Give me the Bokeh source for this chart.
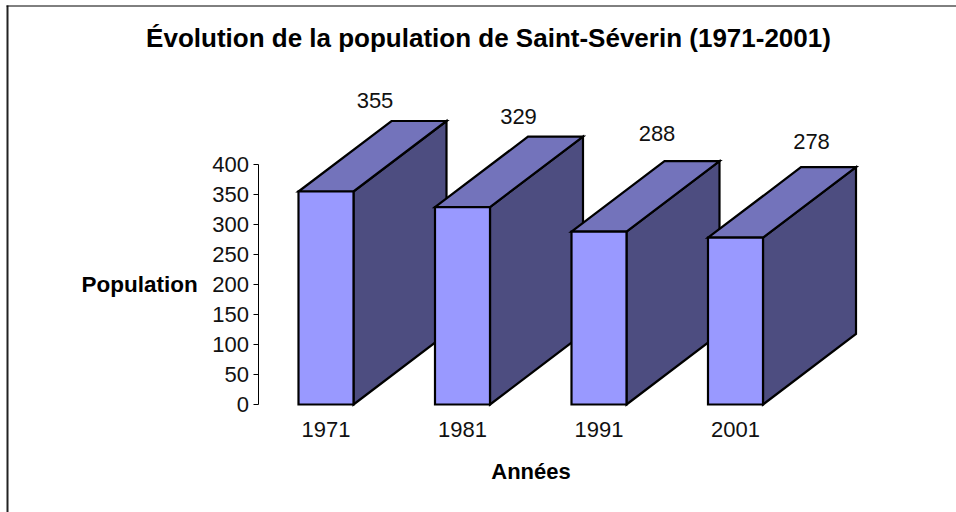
from bokeh.plotting import figure
from bokeh.models import ColumnDataSource, FixedTicker
from bokeh.core.properties import value
from bokeh.embed import file_html
from bokeh.resources import INLINE

# ---- data ----
years = ["1971", "1981", "1991", "2001"]
population = [355, 329, 288, 278]
y_ticks = [0, 50, 100, 150, 200, 250, 300, 350, 400]
title = "Évolution de la population de Saint-Séverin (1971-2001)"
x_title = "Années"
y_title = "Population"
# manual placement of the value labels, in pixels from each bar's front centre/top
label_dx = [49, 56, 58, 76]
label_dy = [91, 91, 98, 96]

# ---- geometry of the scales (pixels) ----
W, H = 956, 512
X0, STEP = 325.5, 136.5      # centre of first bar, distance between bars
Y0, PPU = 404.0, 0.6         # pixel of value 0, pixels per unit
HALF = 27.5 / STEP           # half width of a bar front, in category units
DX = 93.0 / STEP             # depth of a bar, in category units
DY = 70.5 / PPU              # depth of a bar, in value units

xpx = lambda px: (px - X0) / STEP
ypx = lambda py: (Y0 - py) / PPU

p = figure(width=W, height=H, output_backend="svg", toolbar_location=None,
           x_range=(xpx(0), xpx(W)), y_range=(ypx(H), ypx(0)),
           min_border=0, outline_line_color=None, tools="",
           background_fill_color="white", border_fill_color="white")
p.margin = (0, 0, 0, 0)
p.grid.visible = False

FRONT, TOP, SIDE = "#9999FF", "#7373BB", "#4D4D80"
xs, ys, colors = [], [], []
for i, v in enumerate(population):
    l, r = i - HALF, i + HALF
    xs += [[r, r + DX, r + DX, r], [l, l + DX, r + DX, r], [l, r, r, l]]
    ys += [[0, DY, v + DY, v], [v, v + DY, v + DY, v], [0, 0, v, v]]
    colors += [SIDE, TOP, FRONT]
p.patches(xs, ys, fill_color=colors, line_color="black", line_width=2.2, line_join="miter")

lab = ColumnDataSource(dict(x=list(range(4)), y=population,
                            t=[str(v) for v in population],
                            dx=label_dx, dy=[-d for d in label_dy]))
FONT = value("Liberation Sans")
p.text("x", "y", text="t", source=lab, x_offset="dx", y_offset="dy",
       text_align="center", text_baseline="middle", text_font=FONT,
       text_font_size="22px", text_color="#111111")
p.text([xpx(488)], [ypx(37.5)], text=[title], text_align="center", text_baseline="middle",
       text_font=FONT, text_font_style="bold", text_font_size="26px", text_color="black")

# y axis
ya = p.yaxis[0]
ya.fixed_location = xpx(257.5)
ya.bounds = (0, 400)
ya.ticker = FixedTicker(ticks=y_ticks)
ya.axis_line_color = "black"
ya.axis_line_width = 1
ya.major_tick_line_color = "black"
ya.major_tick_in = 0
ya.major_tick_out = 5
ya.minor_tick_line_color = None
ya.major_label_standoff = 4
ya.major_label_text_font = "Liberation Sans"
ya.major_label_text_font_size = "22px"
ya.major_label_text_color = "#111111"
ya.axis_label = y_title
ya.axis_label_orientation = "horizontal"
ya.axis_label_text_font = "Liberation Sans"
ya.axis_label_text_font_style = "bold"
ya.axis_label_text_font_size = "22.5px"
ya.axis_label_text_color = "black"
ya.axis_label_standoff = 12

# x axis
xa = p.xaxis[0]
xa.fixed_location = 0
xa.bounds = (-HALF, 3 + HALF)
xa.ticker = FixedTicker(ticks=[0, 1, 2, 3])
xa.major_label_overrides = {i: y for i, y in enumerate(years)}
xa.axis_line_color = None
xa.major_tick_line_color = None
xa.minor_tick_line_color = None
xa.major_label_standoff = 11
xa.major_label_text_font = "Liberation Sans"
xa.major_label_text_font_size = "22px"
xa.major_label_text_color = "#111111"
xa.axis_label = x_title
xa.axis_label_text_font = "Liberation Sans"
xa.axis_label_text_font_style = "bold"
xa.axis_label_text_font_size = "22px"
xa.axis_label_text_color = "black"
xa.axis_label_standoff = 19

# chart frame: only its left and top edges show
p.line([xpx(7), xpx(7)], [ypx(5), ypx(H)], line_color="#222222", line_width=2)
p.line([xpx(6), xpx(W)], [ypx(5.5), ypx(5.5)], line_color="black", line_width=1)

open("out.html", "w").write(file_html(p, INLINE))
